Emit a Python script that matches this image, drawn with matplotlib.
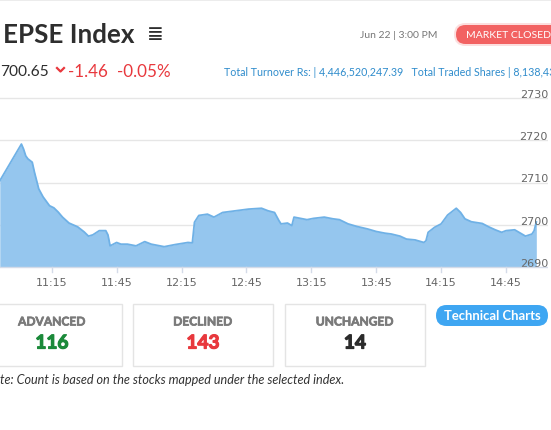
import matplotlib.pyplot as plt
import matplotlib.patches as mpatches
import matplotlib.patheffects as pe
from matplotlib.lines import Line2D
from matplotlib.transforms import IdentityTransform
import numpy as np

# intraday index values
times = ["10:51", "11:01", "11:02", "11:03", "11:04", "11:06", "11:07", "11:09", "11:11", "11:14",
         "11:16", "11:18", "11:20", "11:23", "11:27", "11:30", "11:32", "11:34", "11:37", "11:40",
         "11:41", "11:42", "11:45", "11:47", "11:50", "11:54", "11:58", "12:01", "12:07", "12:12",
         "12:18", "12:20", "12:21", "12:23", "12:27", "12:30", "12:34", "12:40", "12:46", "12:52",
         "12:55", "12:58", "13:00", "13:01", "13:04", "13:06", "13:07", "13:10", "13:13", "13:16",
         "13:21", "13:25", "13:28", "13:32", "13:36", "13:41", "13:45", "13:49", "13:52", "13:56",
         "13:59", "14:03", "14:07", "14:08", "14:09", "14:12", "14:15", "14:18", "14:22", "14:24",
         "14:26", "14:29", "14:34", "14:37", "14:40", "14:43", "14:45", "14:49", "14:51", "14:54",
         "14:57", "14:58", "14:59"]
values = [2710.4, 2719.1, 2717.9, 2716.3, 2715.6, 2714.8, 2712.5, 2708.5, 2706.6, 2704.5,
          2704.0, 2703.0, 2701.8, 2700.4, 2699.5, 2698.3, 2697.3, 2697.6, 2698.6, 2698.6,
          2697.6, 2695.0, 2695.8, 2695.4, 2695.4, 2695.0, 2696.0, 2695.4, 2694.8, 2695.3,
          2695.8, 2695.7, 2700.6, 2702.2, 2702.5, 2701.8, 2702.9, 2703.3, 2703.7, 2703.9,
          2703.3, 2702.9, 2701.0, 2700.2, 2700.4, 2699.8, 2701.8, 2701.5, 2701.2, 2701.5,
          2701.8, 2701.4, 2701.2, 2700.2, 2699.6, 2699.0, 2698.4, 2698.0, 2697.8, 2697.3,
          2696.6, 2696.4, 2695.8, 2696.2, 2698.2, 2699.4, 2700.2, 2702.3, 2703.9, 2702.9,
          2701.4, 2700.7, 2700.3, 2699.5, 2698.8, 2698.2, 2698.6, 2698.8, 2698.2, 2697.3,
          2697.8, 2698.6, 2700.65]

xtick_labels = ["11:15", "11:45", "12:15", "12:45", "13:15", "13:45", "14:15", "14:45"]
ytick_values = [2690, 2700, 2710, 2720, 2730]

breadth_labels = ["ADVANCED", "DECLINED", "UNCHANGED"]
breadth_counts = [116, 143, 14]
breadth_colors = ["#1b8a3a", "#e8383d", "#2b2b2b"]

W, H = 551, 431
FONT = "Lato"


def mins(s):
    h, m = s.split(":")
    return (int(h) - 11) * 60 + int(m)


def fx(x):
    return x / W


def fy(y):
    return 1 - y / H


def pt(px):
    return px * 72 / 100


fig = plt.figure(figsize=(W / 100, H / 100), dpi=100)
fig.patch.set_facecolor("white")

# thin grey strip on top
fig.add_artist(mpatches.Rectangle((0, H - 2), W, 2, transform=IdentityTransform(),
                                  color="#ececec", lw=0))

# header
fig.text(fx(3), fy(35), "EPSE Index", fontsize=pt(26), fontweight="bold", color="#2e2e2e",
         family=FONT, va="center", ha="left")
fig.text(fx(147), fy(35), "\u2263", fontsize=pt(20), color="#2e2e2e",
         family=["DejaVu Sans"], va="center", ha="left")
fig.text(fx(360), fy(35), "Jun 22 | 3:00 PM", fontsize=pt(10.4), color="#777777",
         family=FONT, va="center", ha="left")

# market closed pill
fig.add_artist(mpatches.FancyBboxPatch((454, H - 47), 110, 23, transform=IdentityTransform(),
                                       boxstyle="round,pad=0,rounding_size=11.5",
                                       fc="#fbd0d0", ec="none", lw=0, alpha=0.7))
fig.add_artist(mpatches.FancyBboxPatch((456, H - 45), 110, 19, transform=IdentityTransform(),
                                       boxstyle="round,pad=0,rounding_size=9.5",
                                       fc="#f26262", ec="none", lw=0))
fig.text(fx(466), fy(35.5), "MARKET CLOSED", fontsize=pt(10.4), color="white",
         family=FONT, va="center", ha="left")

# index value line
fig.text(fx(0), fy(72), "700.65", fontsize=pt(15.5), color="#2e2e2e", family=FONT,
         va="center", ha="left")
fig.add_artist(Line2D([57, 60.5, 64], [H - 69, H - 72.5, H - 69], transform=IdentityTransform(),
                      color="#e8383d", lw=1.6))
fig.text(fx(68), fy(72), "-1.46", fontsize=pt(17), color="#e8383d", family=FONT,
         va="center", ha="left")
fig.text(fx(117), fy(72), "-0.05%", fontsize=pt(17), color="#e8383d", family=FONT,
         va="center", ha="left")
fig.text(fx(224), fy(72),
         "Total Turnover Rs: | 4,446,520,247.39   Total Traded Shares | 8,138,43",
         fontsize=pt(10.6), color="#2f8ccc", family=FONT, va="center", ha="left")

# chart
t = np.array([mins(s) for s in times])
v = np.array(values)
ax = fig.add_axes([0, fy(272.2), fx(548), (272.2 - 94.8) / H])
ax.set_xlim(-8.9, 244.4)
ax.set_ylim(2689, 2731)
ax.set_facecolor("none")
for s in ax.spines.values():
    s.set_visible(False)
ax.set_xticks([])
ax.set_yticks([])
for yv in ytick_values[1:]:
    ax.axhline(yv, color="#e6e6e6", lw=1, zorder=0)
ax.fill_between(t, v, 2690, color="#95c6ee", lw=0, zorder=2)
ax.plot(t, v, color="#6fb1e6", lw=1.3, zorder=3)
ax.axhline(2690, color="#d4dbe8", lw=1, zorder=4)

for lab in xtick_labels:
    xm = mins(lab)
    ax.plot([xm, xm], [2690, 2688.8], color="#d4dbe8", lw=1, clip_on=False)
    ax.annotate(lab, xy=(xm, 2690), xycoords="data", xytext=(0, pt(-15)),
                textcoords="offset points", ha="center", va="center",
                fontsize=8, color="#666666", family="DejaVu Sans", annotation_clip=False)

for yv in ytick_values:
    ax.annotate(str(yv), xy=(1, yv), xycoords=("axes fraction", "data"),
                xytext=(0, pt(4)), textcoords="offset points", ha="right", va="center",
                fontsize=8, color="#666666", family="DejaVu Sans", annotation_clip=False)

# market breadth boxes
box_left = [-18, 133, 285]
for i, (lab, cnt, col) in enumerate(zip(breadth_labels, breadth_counts, breadth_colors)):
    x0 = box_left[i]
    fig.add_artist(mpatches.Rectangle((x0, H - 367), 140, 62, transform=IdentityTransform(),
                                      fc="white", ec="#e4e4e4", lw=1))
    cx = x0 + 70
    fig.text(fx(cx), fy(323), lab, fontsize=pt(12), fontweight="bold", color="#7a7a7a",
             family=FONT, va="center", ha="center",
             path_effects=[pe.withStroke(linewidth=0.5, foreground="#7a7a7a")])
    fig.text(fx(cx), fy(344), str(cnt), fontsize=pt(19), fontweight="bold", color=col,
             family=FONT, va="center", ha="center",
             path_effects=[pe.withStroke(linewidth=0.9, foreground=col)])

# technical charts button
fig.add_artist(mpatches.FancyBboxPatch((436, H - 327), 112, 21, transform=IdentityTransform(),
                                       boxstyle="round,pad=0,rounding_size=10.5",
                                       fc="#3ea6f2", ec="none", lw=0))
fig.text(fx(492), fy(316), "Technical Charts", fontsize=pt(13), fontweight="bold",
         color="white", family=FONT, va="center", ha="center")

fig.text(fx(0), fy(380), "te: Count is based on the stocks mapped under the selected index.",
         fontsize=pt(12.6), style="italic", color="#333333", family=FONT,
         va="center", ha="left")

fig.savefig("out.png", dpi=100)
